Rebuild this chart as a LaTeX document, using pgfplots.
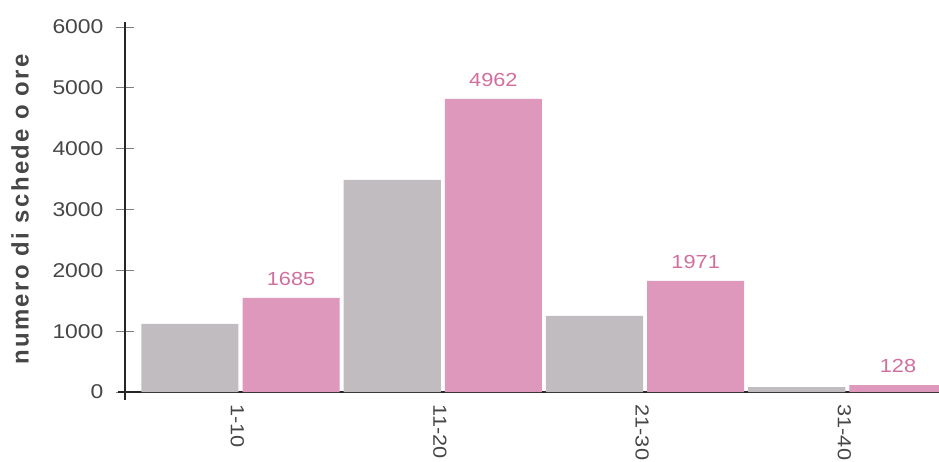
\documentclass[border=0pt]{standalone}
\usepackage{pgfplots}
\pgfplotsset{compat=1.18}
\usepackage{pgfplotstable}
\usepackage{fontspec}
\setmainfont{Liberation Sans}
\newfontfamily\tickfont[FakeStretch=1.15]{Liberation Sans}
\newfontfamily\labfont[LetterSpace=10]{Liberation Sans}
\definecolor{barpink}{RGB}{221,152,188}
\definecolor{bargray}{RGB}{192,188,192}
\definecolor{labpink}{RGB}{210,110,158}
\definecolor{txt}{RGB}{70,70,70}
\pgfplotstableread{
x y
0 1118
1 3487
2 1250
3 82
}\graytab
\pgfplotstableread{
x y lab
0 1546 1685
1 4819 4962
2 1826 1971
3 115 128
}\pinktab
\begin{document}
\begin{tikzpicture}
\begin{axis}[
  scale only axis, width=814bp, height=365bp,
  xmin=-0.571, xmax=3.453, ymin=0, ymax=6000,
  axis x line=bottom, axis y line=left,
  axis line style={-},
  x axis line style={draw=black!85, line width=2.5bp, shorten <=-7bp},
  y axis line style={draw=black!85, line width=1.4bp, shorten <=-8bp, shorten >=-5bp},
  xtick={0,1,2,3}, xticklabels={1-10,11-20,21-30,31-40},
  x tick style={draw=none},
  xticklabel style={rotate=-90, anchor=west, font=\tickfont\fontsize{19}{19}\selectfont, text=txt, yshift=-3bp},
  ytick={0,1000,2000,3000,4000,5000,6000},
  tick align=center, major tick length=18bp,
  y tick style={draw=gray, line width=0.8bp},
  yticklabel style={font=\tickfont\fontsize{20}{20}\selectfont, text=txt, xshift=-9bp},
  /pgf/number format/assume math mode=true,
  /pgf/number format/1000 sep={},
  scaled y ticks=false,
  ylabel={numero di schede o ore},
  ylabel style={at={(axis description cs:-0.129,0.5)}, anchor=center, font=\labfont\bfseries\fontsize{24}{24}\selectfont, text=txt},
  clip=true,
]
\addplot[ybar, bar width=0.48, bar shift=-0.25, fill=bargray, draw=none] table[x=x,y=y] {\graytab};
\addplot[ybar, bar width=0.48, bar shift=0.25, fill=barpink, draw=none,
  nodes near coords, point meta=explicit symbolic,
  every node near coord/.append style={text=labpink, font=\tickfont\fontsize{19}{19}\selectfont, yshift=9bp, xshift=50.6bp}]
  table[x=x,y=y,meta=lab] {\pinktab};
\end{axis}
\pgfresetboundingbox
\path[use as bounding box] (-125bp,-70bp) rectangle (814bp,392bp);
\end{tikzpicture}
\end{document}
